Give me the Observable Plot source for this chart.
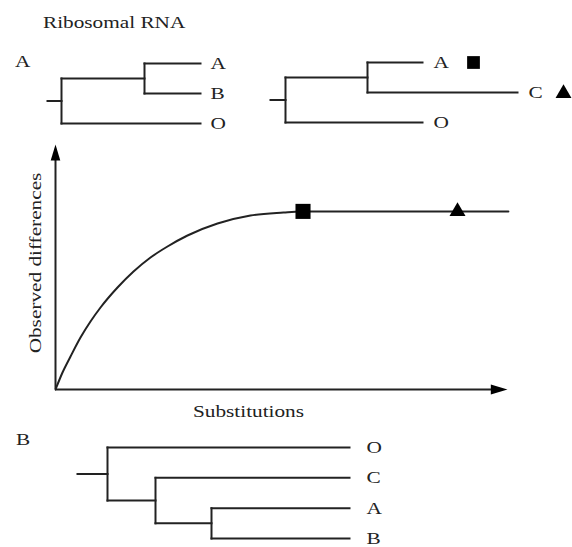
<!DOCTYPE html>
<html><head><meta charset="utf-8">
<script src="https://cdn.jsdelivr.net/npm/d3@7"></script>
<script src="https://cdn.jsdelivr.net/npm/@observablehq/plot@0.6"></script>
<style>
html,body{margin:0;padding:0;background:#fff;}
#fig{position:relative;width:572px;height:547px;overflow:hidden;background:#fff;font-family:"Liberation Serif",serif;color:#222;}
#fig svg{position:absolute;left:0;top:0;}
.lbl{position:absolute;font-size:17px;line-height:17px;white-space:nowrap;transform:scaleX(1.25);transform-origin:0 50%;}
</style></head><body><div id="fig"></div>
<script>
// ---------- data ----------
const title = "Ribosomal RNA";
const panelLabels = ["A", "B"];
const xLabel = "Substitutions";
const yLabel = "Observed differences";

// Panel A, left tree: ((A,B),O)
const treeA1Leaves = ["A", "B", "O"];
const treeA1Edges = [
  {parent: null, child: "root", length: 14},
  {parent: "root", child: "AB", length: 83},
  {parent: "AB", child: "A", length: 56},
  {parent: "AB", child: "B", length: 56},
  {parent: "root", child: "O", length: 139}
];
// Panel A, right tree: ((A,C),O)
const treeA2Leaves = ["A", "C", "O"];
const treeA2Edges = [
  {parent: null, child: "root", length: 15},
  {parent: "root", child: "AC", length: 82},
  {parent: "AC", child: "A", length: 55},
  {parent: "AC", child: "C", length: 150},
  {parent: "root", child: "O", length: 137}
];
// Panel B tree: (O,(C,(A,B)))
const treeBLeaves = ["O", "C", "A", "B"];
const treeBEdges = [
  {parent: null, child: "root", length: 30},
  {parent: "root", child: "O", length: 242},
  {parent: "root", child: "CAB", length: 48},
  {parent: "CAB", child: "C", length: 194},
  {parent: "CAB", child: "AB", length: 56},
  {parent: "AB", child: "A", length: 138},
  {parent: "AB", child: "B", length: 138}
];

// markers linking taxa to points on the curve
const markerTaxa = ["A", "C"];
const markerSymbols = ["square", "triangle"];
const markerSubstitutions = [54.76, 88.94];
const markerObserved = [72.7, 72.7];

// saturation curve (arbitrary units, 0-100)
const substitutions = [0, 1.55, 3.32, 5.53, 7.74, 9.96, 13.72, 17.26, 21.02, 24.78, 29.20, 35.84, 43.14, 50.44, 54.20, 76.33, 100.2];
const observed      = [0, 6.94, 13.47, 21.22, 27.76, 33.47, 41.63, 48.16, 53.88, 58.37, 62.86, 67.76, 71.02, 72.24, 72.65, 72.7, 72.7];
const xMax = 100, yMax = 100;

// ---------- helpers ----------
const W = 572, H = 547;
const INK = "#222";
const FONT = "Liberation Serif, Times New Roman, serif";

function layoutTree(edges, leaves) {
  const children = new Map(), len = new Map();
  let rootName;
  for (const e of edges) {
    len.set(e.child, e.length);
    if (e.parent === null) rootName = e.child;
    else {
      if (!children.has(e.parent)) children.set(e.parent, []);
      children.get(e.parent).push(e.child);
    }
  }
  const depth = new Map(), row = new Map();
  (function visit(n, d) {
    depth.set(n, d + len.get(n));
    const ch = children.get(n) || [];
    ch.forEach(c => visit(c, depth.get(n)));
    if (ch.length) {
      const ys = ch.map(c => row.get(c));
      row.set(n, (Math.min(...ys) + Math.max(...ys)) / 2);
    } else row.set(n, leaves.indexOf(n));
  })(rootName, 0);
  const segs = [];
  for (const e of edges) {
    const x1 = e.parent === null ? 0 : depth.get(e.parent);
    segs.push({x1, x2: depth.get(e.child), y1: row.get(e.child), y2: row.get(e.child)});
  }
  for (const [n, ch] of children) {
    const ys = ch.map(c => row.get(c));
    segs.push({x1: depth.get(n), x2: depth.get(n), y1: Math.min(...ys), y2: Math.max(...ys)});
  }
  const tips = leaves.map(name => ({name, x: depth.get(name), y: row.get(name)}));
  return {segs, tips, n: leaves.length, maxDepth: Math.max(...tips.map(t => t.x))};
}

function treePlot(t, box, labelDx, extraMarks) {
  return Plot.plot({
    width: W, height: H,
    marginLeft: box.left, marginRight: W - box.right,
    marginTop: box.top, marginBottom: H - box.bottom,
    style: {background: "transparent", fontFamily: FONT, fontSize: "17px"},
    x: {domain: [0, t.maxDepth], axis: null},
    y: {domain: [0, t.n - 1], reverse: true, axis: null},
    marks: [
      Plot.link(t.segs, {x1: "x1", y1: "y1", x2: "x2", y2: "y2", stroke: INK, strokeWidth: 2, strokeLinecap: "square"}),
      Plot.text(t.tips, {x: "x", y: "y", text: "name", textAnchor: "start", lineAnchor: "middle", dx: labelDx, fill: INK, fontSize: 17, fontFamily: FONT}),
      ...extraMarks(t)
    ]
  });
}

const arrowHead = {
  draw(ctx, size) {
    const L = Math.sqrt(size);
    ctx.moveTo(0, 0);
    ctx.lineTo(-0.3 * L, L);
    ctx.lineTo(0.3 * L, L);
    ctx.closePath();
  }
};

const fig = document.getElementById("fig");

// ---------- trees ----------
const tA1 = layoutTree(treeA1Edges, treeA1Leaves);
const tA2 = layoutTree(treeA2Edges, treeA2Leaves);
const tB = layoutTree(treeBEdges, treeBLeaves);

fig.append(treePlot(tA1, {left: 47, right: 200, top: 63, bottom: 123}, 10, () => []));
fig.append(treePlot(tA2, {left: 270, right: 517, top: 62, bottom: 122}, 11, t => {
  const m = markerTaxa.map((taxon, i) => ({...t.tips.find(d => d.name === taxon), symbol: markerSymbols[i]}));
  return [
    Plot.dot(m.filter(d => d.symbol === "square"), {x: "x", y: "y", symbol: "square", r: 7.2, fill: "#000", dx: 51}),
    Plot.dot(m.filter(d => d.symbol === "triangle"), {x: "x", y: "y", symbol: "triangle", r: 5.9, fill: "#000", dx: 46, dy: 1})
  ];
}));
fig.append(treePlot(tB, {left: 77, right: 349, top: 447, bottom: 538}, 17, () => []));

// ---------- saturation chart ----------
const curve = substitutions.map((s, i) => ({s, o: observed[i]}));
const pts = markerTaxa.map((taxon, i) => ({taxon, symbol: markerSymbols[i], s: markerSubstitutions[i], o: markerObserved[i]}));

fig.append(Plot.plot({
  width: W, height: H,
  marginLeft: 55, marginRight: 65, marginTop: 144, marginBottom: 158,
  style: {background: "transparent", fontFamily: FONT, fontSize: "17px"},
  x: {domain: [0, xMax], axis: null},
  y: {domain: [0, yMax], axis: null},
  marks: [
    Plot.ruleX([0], {y1: 0, y2: yMax - 4, stroke: INK, strokeWidth: 2}),
    Plot.ruleY([0], {x1: 0, x2: xMax - 2, stroke: INK, strokeWidth: 2}),
    Plot.dot([{x: 0, y: yMax}], {x: "x", y: "y", symbol: arrowHead, r: 9, fill: "#000", stroke: null}),
    Plot.dot([{x: xMax, y: 0}], {x: "x", y: "y", symbol: arrowHead, r: 9.4, rotate: 90, fill: "#000", stroke: null}),
    Plot.line(curve, {x: "s", y: "o", curve: "monotone-x", stroke: INK, strokeWidth: 2}),
    Plot.dot(pts.filter(d => d.symbol === "square"), {x: "s", y: "o", symbol: "square", r: 8.5, fill: "#000"}),
    Plot.dot(pts.filter(d => d.symbol === "triangle"), {x: "s", y: "o", symbol: "triangle", r: 5.94, fill: "#000"}),
    Plot.text([xLabel], {frameAnchor: "bottom", dx: -33, dy: 22, lineAnchor: "middle", fill: INK, fontSize: 17, fontFamily: FONT}),
    Plot.text([yLabel], {frameAnchor: "left", rotate: -90, textAnchor: "middle", dx: -20, dy: -4, lineAnchor: "middle", fill: INK, fontSize: 17, fontFamily: FONT})
  ]
}));

// ---------- html labels ----------
function addLabel(text, left, top) {
  const d = document.createElement("div");
  d.className = "lbl";
  d.style.left = left + "px";
  d.style.top = top + "px";
  d.textContent = text;
  fig.append(d);
}
addLabel(title, 43, 14);
addLabel(panelLabels[0], 15, 53);
addLabel(panelLabels[1], 16, 431);

// widen svg glyphs to match the reference's wide serif lettering
document.querySelectorAll("#fig svg text").forEach(t => {
  const L = t.getComputedTextLength();
  if (L > 0) {
    t.setAttribute("textLength", (L * 1.25).toFixed(1));
    t.setAttribute("lengthAdjust", "spacingAndGlyphs");
  }
});
</script>
</body></html>
